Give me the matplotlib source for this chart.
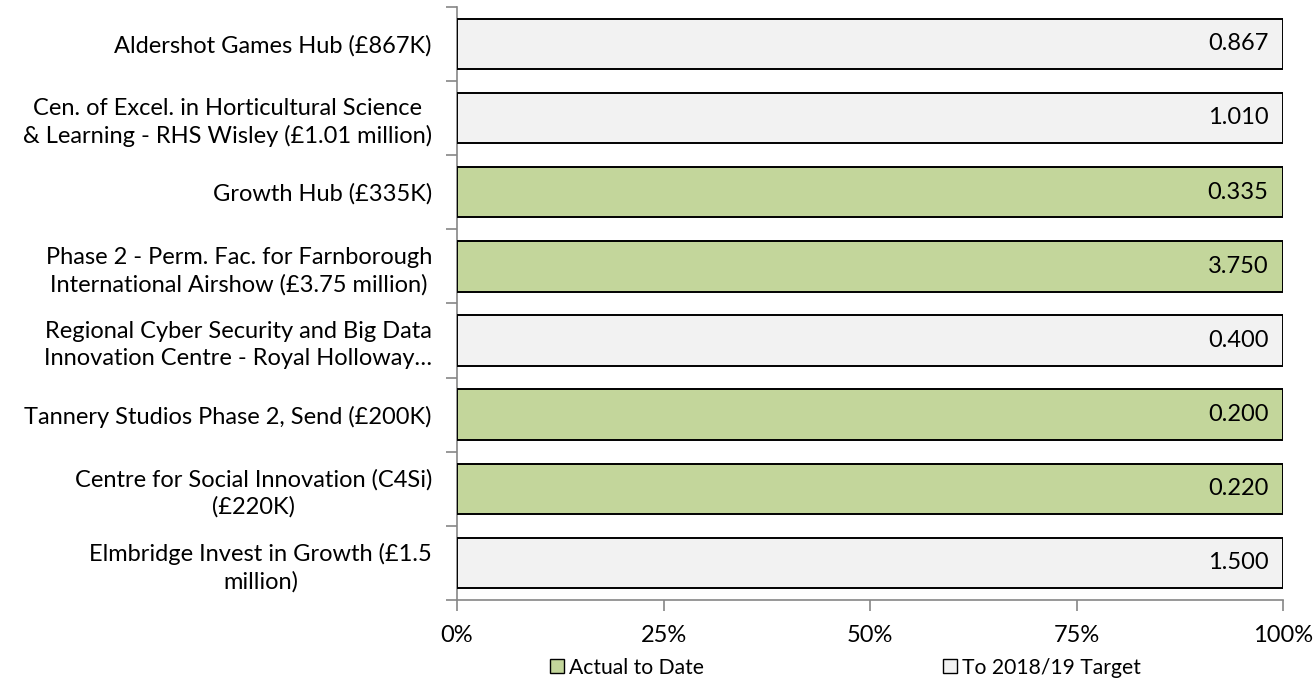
import matplotlib
matplotlib.use("Agg")
import matplotlib.pyplot as plt
import matplotlib.patches as mpatches
import numpy as np

plt.rcParams["font.family"] = ["Lato", "DejaVu Sans"]

projects = [
    "Aldershot Games Hub (£867K)",
    "Cen. of Excel. in Horticultural Science\n& Learning - RHS Wisley (£1.01 million)",
    "Growth Hub (£335K)",
    "Phase 2 - Perm. Fac. for Farnborough\nInternational Airshow (£3.75 million)",
    "Regional Cyber Security and Big Data\nInnovation Centre - Royal Holloway…",
    "Tannery Studios Phase 2, Send (£200K)",
    "Centre for Social Innovation (C4Si)\n(£220K)",
    "Elmbridge Invest in Growth (£1.5\nmillion)",
]
actual = [0.0, 0.0, 0.335, 3.750, 0.0, 0.200, 0.220, 0.0]
target = [0.867, 1.010, 0.0, 0.0, 0.400, 0.0, 0.0, 1.500]

_GREEN = "#C3D69B"
_GREY = "#F2F2F2"
_AXIS = "#868686"
FS = 17

actual = np.array(actual)
target = np.array(target)
total = actual + target
act_pct = actual / total
tgt_pct = target / total

fig = plt.figure(figsize=(13.15, 6.87), dpi=100)
ax = fig.add_axes([0.3475, 0.1266, 0.6283, 0.8636])

ys = np.arange(len(projects))[::-1]
h = 0.68
ax.barh(ys, act_pct, h, color=_GREEN, edgecolor="black", lw=1.4, zorder=3)
ax.barh(ys, tgt_pct, h, left=act_pct, color=_GREY, edgecolor="black", lw=1.4, zorder=3)

for y, tot in zip(ys, total):
    ax.text(0.982, y, f"{tot:.3f}", ha="right", va="center", fontsize=FS, zorder=4)

ax.set_xlim(0, 1)
ax.set_ylim(-0.5, len(projects) - 0.5)
ax.set_xticks([0, 0.25, 0.5, 0.75, 1.0])
ax.set_xticklabels(["0%", "25%", "50%", "75%", "100%"], fontsize=FS)
ax.set_yticks(ys)
ax.set_yticklabels(projects, fontsize=FS, ha="right", multialignment="center",
                   linespacing=1.32)
ax.tick_params(axis="y", length=0, pad=18)
ax.set_yticks(np.arange(-0.5, len(projects)), minor=True)
ax.tick_params(axis="y", which="minor", length=8, color=_AXIS, width=1.2)
ax.tick_params(axis="x", length=8, color=_AXIS, width=1.2, pad=10)

for s in ("top", "right"):
    ax.spines[s].set_visible(False)
for s in ("left", "bottom"):
    ax.spines[s].set_color(_AXIS)
    ax.spines[s].set_linewidth(1.2)

handles = [
    mpatches.Patch(facecolor=_GREEN, edgecolor="black", label="Actual to Date"),
    mpatches.Patch(facecolor=_GREY, edgecolor="black", label="To 2018/19 Target"),
]
fig.legend(handles=handles, loc="center", bbox_to_anchor=(0.643, 0.028), ncol=2,
           frameon=False, fontsize=15.2, handlelength=0.65, handleheight=0.65,
           handletextpad=0.25, columnspacing=11.3)

fig.savefig("out.png", dpi=100)
